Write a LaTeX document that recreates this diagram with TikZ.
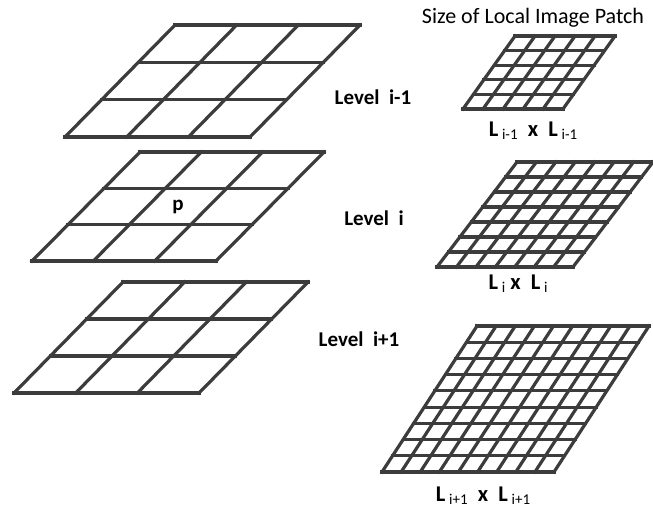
\documentclass[tikz,border=0pt]{standalone}
\usepackage{fontspec}
\setmainfont{Carlito}
\definecolor{gridgray}{HTML}{3C3C3C}
\newcommand{\pgrid}[7]{%
  \foreach \k in {0,...,#7} {
    \draw[gridline] ({#2+#6*\k/#7},{#3-#5*\k/#7}) -- ++(#4,0);
    \draw[gridline] ({#2+#4*\k/#7},#3) -- ++(#6,-#5);
  }%
}
\newcommand{\Lsub}[1]{L\,{\fontsize{15}{17}\selectfont\mdseries\raisebox{-3pt}{#1}}}
\begin{document}
\begin{tikzpicture}[x=1pt,y=-1pt,
  gridline/.style={draw=gridgray, line width=3.2pt, line cap=rect, line join=miter},
  lvl/.style={font=\bfseries\fontsize{21}{25}\selectfont, anchor=center, inner sep=0pt},
  sizelbl/.style={font=\bfseries\fontsize{22.5}{26}\selectfont, anchor=center, inner sep=0pt},
  title/.style={font=\fontsize{22}{26}\selectfont, anchor=center, inner sep=0pt}]
\useasboundingbox (0,0) rectangle (653,508);
% left grids (3x3)
\pgrid{g1}{65}{137}{185}{112}{110}{3}
\pgrid{g2}{32}{261}{184}{109}{108}{3}
\pgrid{g3}{14}{393}{185}{111}{109}{3}
% right grids
\pgrid{r1}{463}{109}{100}{73}{52}{5}
\pgrid{r2}{437}{267}{136}{105}{80}{7}
\pgrid{r3}{382}{472}{172}{146}{95}{9}
% texts
\node[lvl] (p) at (178,207) {p};
\node[lvl] (l1) at (373,97) {Level\ \ i-1};
\node[lvl] (l2) at (374,218) {Level\ \ i};
\node[lvl] (l3) at (359,339) {Level\ \ i+1};
\node[title] (t) at (533,18) {Size of Local Image Patch};
\node[sizelbl] (s1) at (533,131) {\Lsub{i-1}\ \ x\ \ \Lsub{i-1}};
\node[sizelbl] (s2) at (518,284) {\Lsub{i}\ x\ \ \Lsub{i}};
\node[sizelbl] (s3) at (483,496) {\Lsub{i+1}\ \ x\ \ \Lsub{i+1}};
\end{tikzpicture}
\end{document}
